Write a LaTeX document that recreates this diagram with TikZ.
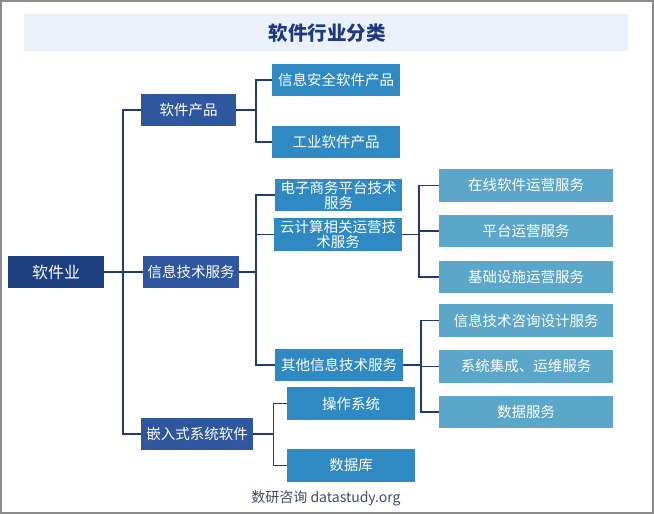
\documentclass[tikz,border=0pt]{standalone}
\usepackage{fontspec}
\setmainfont{Noto Sans CJK SC}
\usepackage{tikz}

\definecolor{rootblue}{HTML}{1B3E7E}
\definecolor{mainblue}{HTML}{2E57A0}
\definecolor{subblue}{HTML}{2F89C2}
\definecolor{leafblue}{HTML}{5AA7CA}
\definecolor{linkblue}{HTML}{1F3A7A}
\definecolor{bandblue}{HTML}{EAF1FB}
\definecolor{footgray}{HTML}{3F4B63}

\begin{document}
\begin{tikzpicture}[x=1pt, y=-1pt,
    box/.style={text=white, inner sep=0pt, align=center, font=\fontsize{14.5}{15}\selectfont},
    rootbox/.style={box, fill=rootblue, minimum width=96pt, minimum height=32pt, font=\fontsize{16}{17}\selectfont},
    mainbox/.style={box, fill=mainblue, minimum height=32pt},
    subbox/.style={box, fill=subblue, minimum width=128pt, minimum height=32pt},
    leafbox/.style={box, fill=leafblue, minimum width=174pt, minimum height=32pt},
    link/.style={draw=linkblue, line width=1.2pt}]
            \useasboundingbox (0,0) rectangle (654,514);
            \draw [gray!90, line width=1.5pt] (1,1) rectangle (653,513);
            \fill [bandblue] (24,14) rectangle (628,51);
            \node (title) [text=linkblue, font=\fontsize{19.5}{20}\selectfont\bfseries] at (327,33) {软件行业分类};
            \node (root) [rootbox] at (56,272) {软件业};
            \node (prod) [mainbox, minimum width=95pt] at (188.5,110) {软件产品};
            \node (itsvc) [mainbox, minimum width=96pt] at (191,272) {信息技术服务};
            \node (embed) [mainbox, minimum width=112pt] at (197,434) {嵌入式系统软件};
            \node (secure) [subbox] at (336,80) {信息安全软件产品};
            \node (indus) [subbox] at (336,142) {工业软件产品};
            \node (ecom) [subbox, minimum width=127pt] at (338.5,195) {电子商务平台技术\\服务};
            \node (cloud) [subbox, minimum height=33pt] at (338,234.5) {云计算相关运营技\\术服务};
            \node (other) [subbox] at (339,365) {其他信息技术服务};
            \node (opsys) [subbox, minimum height=33pt] at (351,403.5) {操作系统};
            \node (dbase) [subbox, minimum height=33pt] at (351,465.5) {数据库};
            \node (online) [leafbox, minimum height=33pt] at (526,185.5) {在线软件运营服务};
            \node (platf) [leafbox] at (526,231) {平台运营服务};
            \node (infra) [leafbox] at (526,277) {基础设施运营服务};
            \node (consult) [leafbox, minimum height=33pt] at (526,320.5) {信息技术咨询设计服务};
            \node (integ) [leafbox, minimum height=33pt] at (526,366.5) {系统集成、运维服务};
            \node (datasvc) [leafbox] at (526,412) {数据服务};
            \node (foot) [text=footgray, font=\fontsize{14}{15}\selectfont] at (326,498) {数研咨询 datastudy.org};
            \coordinate (trunk) at (123,272);
            \coordinate (prodbus) at (256,110);
            \coordinate (itbus) at (256,272);
            \coordinate (cloudbus) at (419,234.5);
            \coordinate (otherbus) at (421,365);
            \coordinate (embbus) at (273.5,434);
            \draw [link] (root) -- (itsvc);
            \draw [link] (prod.west) -| (trunk) |- (embed.west);
            \draw [link] (prod.east) -- (prodbus);
            \draw [link] (secure.west) -| (prodbus) |- (indus.west);
            \draw [link] (itsvc.east) -- (itbus);
            \draw [link] (ecom.west) -| (itbus) |- (other.west);
            \draw [link] (cloud.west) -- (cloud.west -| itbus);
            \draw [link] (cloud.east) -- (cloudbus);
            \draw [link] (online.west) -| (cloudbus) |- (infra.west);
            \draw [link] (platf.west) -- (platf.west -| cloudbus);
            \draw [link] (other.east) -- (otherbus);
            \draw [link] (consult.west) -| (otherbus) |- (datasvc.west);
            \draw [link] (integ.west) -- (integ.west -| otherbus);
            \draw [link] (embed.east) -- (embbus);
            \draw [link] (opsys.west) -| (embbus) |- (dbase.west);
        \end{tikzpicture}
\end{document}
